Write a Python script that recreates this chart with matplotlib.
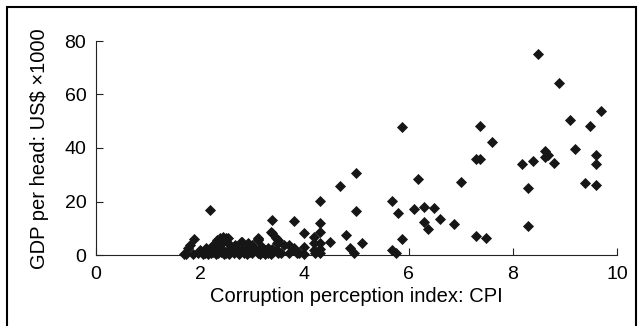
import matplotlib
matplotlib.use('Agg')
import matplotlib.pyplot as plt
from matplotlib.patches import Rectangle

plt.rcParams['font.family'] = ['Liberation Sans', 'DejaVu Sans']

# --- CPI score vs GDP per head (US$ x1000) ---
cpi = [
    # high income / clean
    8.49, 8.88, 9.69, 9.10, 9.49, 7.38, 7.60, 9.19, 8.61, 8.68, 8.62, 9.60, 8.80,
    9.60, 8.38, 8.18, 7.29, 7.38, 7.01, 9.38, 9.60, 8.30, 8.30, 7.29, 7.49,
    # middle
    5.87, 6.19, 5.69, 5.80, 6.10, 6.30, 6.49, 6.60, 6.30, 6.38, 6.88, 5.88, 5.69, 5.11,
    4.99, 4.68, 4.30, 4.99, 3.38, 3.80, 4.30, 4.30, 3.99, 4.79, 3.38, 4.19, 3.50,
    4.49, 3.47, 3.60, 3.70, 4.19, 4.30, 3.80, 3.99, 4.88, 4.19, 4.30, 3.47, 3.38,
    3.18, 3.10, 3.90, 4.00, 4.20, 4.30, 4.95, 5.75,
    # low
    2.19, 1.88, 1.80, 1.77, 1.68, 1.72, 1.86, 1.95, 2.00, 2.06, 2.12, 2.19, 2.25,
    2.32, 2.38, 2.44, 2.41, 2.51, 2.28, 2.50,
    2.05, 2.10, 2.15, 2.20, 2.25, 2.30, 2.35, 2.40, 2.45, 2.50, 2.55, 2.60, 2.65,
    2.70, 2.75, 2.80, 2.85, 2.90, 2.95, 3.00, 3.05, 3.10, 3.15, 3.20, 3.25, 3.30,
    3.35, 3.40, 3.50, 3.55, 3.70, 3.85,
    2.53, 2.79, 3.11, 3.36, 3.46, 2.92, 2.66, 3.17, 3.49, 2.60, 2.80, 2.99, 3.10,
    2.70, 2.90, 3.00, 2.40, 2.55, 2.35, 3.30, 2.15, 2.85, 3.25,
]
gdp = [
    75.3, 64.3, 53.8, 50.5, 48.2, 48.2, 42.2, 39.5, 38.9, 37.4, 36.5, 37.3, 34.5,
    33.9, 35.1, 33.9, 35.8, 35.8, 27.4, 26.8, 26.3, 25.2, 10.8, 7.1, 6.2,
    47.7, 28.4, 20.3, 15.7, 17.1, 17.9, 17.4, 13.6, 12.5, 9.8, 11.5, 6.0, 1.9, 4.6,
    30.7, 25.8, 20.2, 16.4, 13.1, 12.6, 12.1, 8.7, 8.2, 7.5, 8.1, 6.9, 5.6,
    5.0, 4.5, 3.6, 3.9, 4.4, 4.4, 2.6, 3.1, 2.7, 1.9, 2.4, 1.9, 2.1,
    3.1, 5.6, 0.7, 0.5, 0.6, 0.9, 0.8, 0.6,
    16.9, 6.0, 3.8, 2.5, 0.3, 0.4, 0.3, 0.6, 1.9, 1.2, 2.5, 2.7, 3.5,
    5.6, 6.2, 6.9, 4.4, 5.0, 4.6, 6.5,
    0.4, 0.8, 0.3, 0.6, 1.0, 0.4, 0.7, 1.2, 0.5, 0.9, 0.4, 1.5, 0.6,
    1.0, 0.3, 1.8, 0.7, 0.4, 1.1, 0.6, 2.0, 0.8, 0.4, 1.3, 0.5, 0.9,
    0.4, 1.0, 0.6, 0.9, 0.7, 0.9,
    6.2, 5.0, 6.2, 8.5, 6.5, 4.4, 3.7, 3.1, 4.4, 3.1, 4.7, 3.7, 5.9,
    2.4, 2.8, 2.2, 2.6, 2.0, 3.0, 2.6, 1.7, 1.5, 1.8,
]

x_ticks = [0, 2, 4, 6, 8, 10]
y_ticks = [0, 20, 40, 60, 80]

fig = plt.figure(figsize=(6.43, 3.26), dpi=100)
ax = fig.add_axes([96 / 643, 1 - 255 / 326, 521 / 643, 214 / 326])

ax.scatter(cpi, gdp, marker='D', s=32, color='#161616', linewidths=0, zorder=3, clip_on=False)

ax.set_xlim(0, 10)
ax.set_ylim(0, 80)
ax.set_xticks(x_ticks)
ax.set_yticks(y_ticks)
ax.tick_params(axis='both', direction='in', length=5, width=0.8, labelsize=14, color='#222222')
ax.tick_params(axis='x', pad=8)
ax.tick_params(axis='y', pad=7)
for s in ['top', 'right']:
    ax.spines[s].set_visible(False)
for s in ['left', 'bottom']:
    ax.spines[s].set_linewidth(0.8)
    ax.spines[s].set_color('#222222')

ax.set_xlabel('Corruption perception index: CPI', fontsize=14.5, va='center')
ax.set_ylabel('GDP per head: US$ \u00d71000', fontsize=14.5, va='center')
ax.xaxis.set_label_coords(0.5, -0.196)
ax.yaxis.set_label_coords(-0.109, 0.495)

# outer frame, bottom edge runs off the canvas
fig.patches.append(Rectangle((7 / 643, -0.05), 629 / 643, 1.05 - 7 / 326, transform=fig.transFigure,
                             fill=False, edgecolor='black', linewidth=1.5))

fig.savefig('out.png', dpi=100)
